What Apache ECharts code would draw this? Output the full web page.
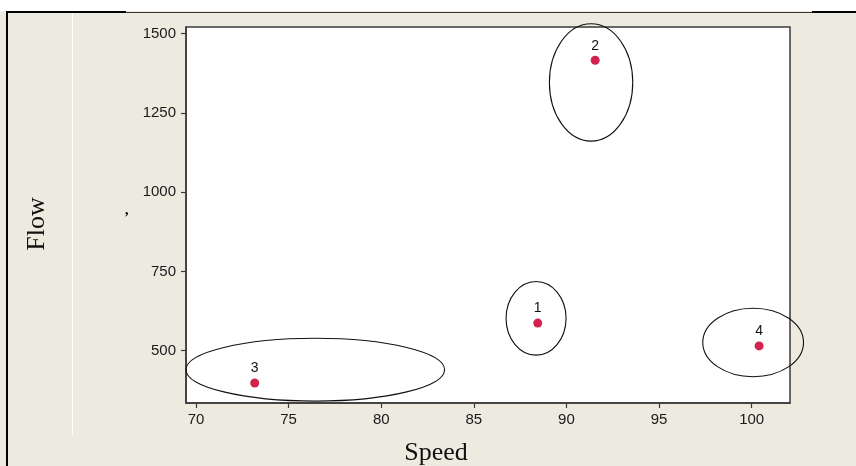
<!DOCTYPE html>
<html>
<head>
<meta charset="utf-8">
<script src="https://cdn.jsdelivr.net/npm/echarts@6/dist/echarts.min.js"></script>
<style>html,body{margin:0;padding:0;background:#fff}#c{width:856px;height:466px}</style>
</head>
<body>
<div id="c"></div>
<script>
// Data
const pointLabels = ['1', '2', '3', '4'];
const speed = [88.45, 91.55, 73.17, 100.4];
const flow = [587, 1416, 398, 515];

// Cluster ellipses (center and radii in data units)
const ellipseCx = [88.36, 91.33, 76.44, 100.08];
const ellipseCy = [602, 1346, 440, 526];
const ellipseRx = [1.62, 2.25, 6.98, 2.72];
const ellipseRy = [116, 185, 99, 108];

const xTicks = [70, 75, 80, 85, 90, 95, 100];
const yTicks = [500, 750, 1000, 1250, 1500];
const xTitle = 'Speed';
const yTitle = 'Flow';

const chart = echarts.init(document.getElementById('c'), null, {renderer: 'canvas'});

const tickFont = {fontFamily: 'Liberation Sans, Arial, sans-serif', fontSize: 15, color: '#1a1a1a'};
const titleFont = '26px "Liberation Serif", "Times New Roman", serif';

chart.setOption({
  animation: false,
  backgroundColor: '#EDEAE0',
  graphic: [
    {type: 'rect', shape: {x: 0, y: 0, width: 856, height: 11}, style: {fill: '#ffffff'}, z: -10},
    {type: 'rect', shape: {x: 6, y: 11, width: 120, height: 2}, style: {fill: '#000'}},
    {type: 'rect', shape: {x: 126, y: 12, width: 686, height: 1}, style: {fill: '#333'}},
    {type: 'rect', shape: {x: 812, y: 11, width: 44, height: 2}, style: {fill: '#000'}},
    {type: 'rect', shape: {x: 6, y: 11, width: 2, height: 455}, style: {fill: '#000'}},
    {type: 'rect', shape: {x: 72, y: 13, width: 1, height: 422}, style: {fill: '#ffffff'}},
    {type: 'text', x: 125, y: 203, style: {text: ',', font: 'bold 14px Liberation Serif', fill: '#000'}},
    {type: 'text', x: 436, y: 453, style: {text: xTitle, font: titleFont, fill: '#111', align: 'center', verticalAlign: 'middle'}},
    {type: 'text', x: 37, y: 224, rotation: Math.PI / 2, style: {text: yTitle, font: titleFont, fill: '#111', align: 'center', verticalAlign: 'middle'}}
  ],
  grid: {
    left: 186, right: 66, top: 27, bottom: 63,
    outerBoundsMode: 'none', containLabel: false,
    show: true, backgroundColor: '#ffffff', borderColor: '#3a3a3a', borderWidth: 1.5
  },
  xAxis: {
    type: 'value', min: 69.46, max: 102.07,
    axisLine: {show: true, lineStyle: {color: '#3a3a3a', width: 1.5}},
    axisTick: {show: true, length: 5, customValues: xTicks, lineStyle: {color: '#3a3a3a', width: 1.2}},
    axisLabel: Object.assign({customValues: xTicks, margin: 9, formatter: v => String(v)}, tickFont),
    splitLine: {show: false}
  },
  yAxis: {
    type: 'value', min: 335, max: 1520.8,
    axisLine: {show: true, lineStyle: {color: '#3a3a3a', width: 1.5}},
    axisTick: {show: true, length: 5, customValues: yTicks, lineStyle: {color: '#3a3a3a', width: 1.2}},
    axisLabel: Object.assign({customValues: yTicks, margin: 10, formatter: v => String(v)}, tickFont),
    splitLine: {show: false}
  },
  series: [
    {
      type: 'custom',
      clip: false,
      silent: true,
      data: ellipseCx.map((cx, i) => [cx, ellipseCy[i], ellipseRx[i], ellipseRy[i]]),
      renderItem: function (params, api) {
        const c = api.coord([api.value(0), api.value(1)]);
        const s = api.size([api.value(2), api.value(3)]);
        return {
          type: 'ellipse',
          shape: {cx: c[0], cy: c[1], rx: s[0], ry: s[1]},
          style: {fill: 'none', stroke: '#111', lineWidth: 1.1}
        };
      },
      z: 3
    },
    {
      type: 'scatter',
      symbol: 'circle',
      symbolSize: 9,
      data: speed.map((x, i) => ({value: [x, flow[i]], name: pointLabels[i]})),
      itemStyle: {color: '#D2234D', opacity: 1},
      label: {
        show: true, position: 'top', distance: 3,
        formatter: p => p.name,
        fontFamily: 'Liberation Sans, Arial, sans-serif', fontSize: 14, color: '#111'
      },
      z: 4
    }
  ]
});
</script>
</body>
</html>
